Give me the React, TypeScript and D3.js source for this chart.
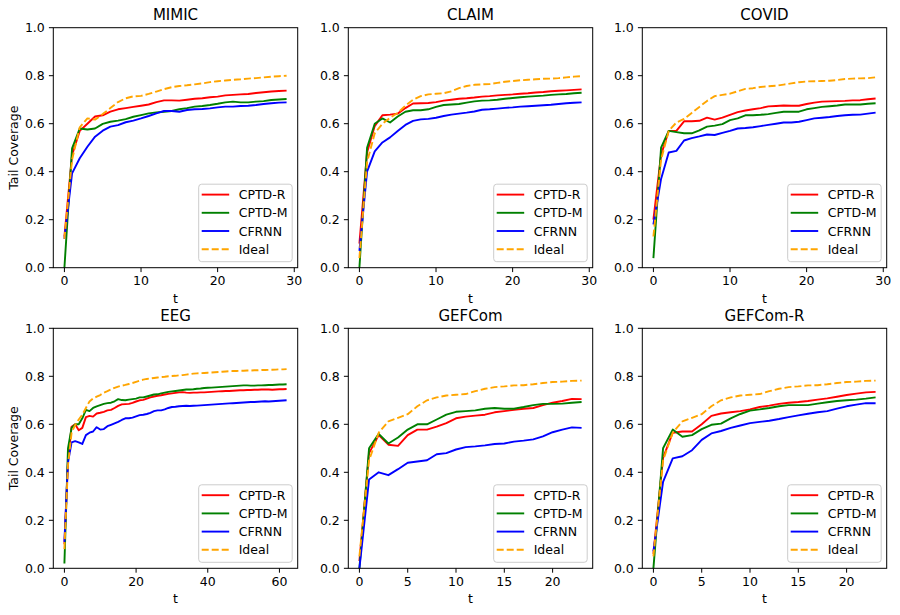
import React, { useEffect, useRef } from 'react';
import * as d3 from 'd3';

const panelNames = ['MIMIC', 'CLAIM', 'COVID', 'EEG', 'GEFCom', 'GEFCom-R'];
const seriesNames = ['CPTD-R', 'CPTD-M', 'CFRNN', 'Ideal'];
const seriesColors = ['red', 'green', 'blue', 'orange'];
const yTicks = [0, 0.2, 0.4, 0.6, 0.8, 1.0];
const xTicksByPanel = [
  [0, 10, 20, 30],
  [0, 10, 20, 30],
  [0, 10, 20, 30],
  [0, 20, 40, 60],
  [0, 5, 10, 15, 20],
  [0, 5, 10, 15, 20],
];

// MIMIC
const mimicR = [0.13, 0.47, 0.57, 0.60, 0.63, 0.635, 0.65, 0.66, 0.665, 0.67, 0.675, 0.68, 0.69, 0.697, 0.697, 0.696, 0.70, 0.704, 0.706, 0.71, 0.713, 0.718, 0.72, 0.722, 0.724, 0.728, 0.731, 0.734, 0.736, 0.738];
const mimicM = [0.0, 0.497, 0.58, 0.576, 0.58, 0.599, 0.608, 0.613, 0.619, 0.629, 0.636, 0.643, 0.647, 0.65, 0.653, 0.66, 0.665, 0.671, 0.674, 0.678, 0.683, 0.689, 0.692, 0.689, 0.689, 0.692, 0.694, 0.699, 0.701, 0.703];
const mimicC = [0.12, 0.393, 0.456, 0.504, 0.546, 0.571, 0.588, 0.594, 0.606, 0.613, 0.622, 0.632, 0.643, 0.653, 0.653, 0.65, 0.657, 0.66, 0.661, 0.664, 0.668, 0.671, 0.671, 0.674, 0.675, 0.678, 0.682, 0.685, 0.688, 0.689];
const mimicI = [0.12, 0.45, 0.585, 0.622, 0.617, 0.64, 0.665, 0.69, 0.706, 0.714, 0.716, 0.724, 0.734, 0.744, 0.752, 0.757, 0.76, 0.764, 0.768, 0.773, 0.777, 0.78, 0.783, 0.785, 0.788, 0.79, 0.793, 0.796, 0.798, 0.80];

// CLAIM
const claimR = [0.10, 0.48, 0.59, 0.635, 0.638, 0.642, 0.665, 0.684, 0.685, 0.686, 0.69, 0.696, 0.70, 0.704, 0.706, 0.709, 0.713, 0.715, 0.718, 0.72, 0.722, 0.725, 0.727, 0.73, 0.732, 0.735, 0.737, 0.739, 0.741, 0.743];
const claimM = [0.0, 0.50, 0.60, 0.622, 0.605, 0.63, 0.65, 0.656, 0.656, 0.66, 0.67, 0.678, 0.68, 0.682, 0.688, 0.693, 0.696, 0.697, 0.70, 0.704, 0.707, 0.71, 0.713, 0.715, 0.717, 0.72, 0.722, 0.724, 0.727, 0.729];
const claimC = [0.07, 0.40, 0.485, 0.522, 0.543, 0.57, 0.595, 0.612, 0.618, 0.62, 0.625, 0.632, 0.638, 0.642, 0.646, 0.651, 0.658, 0.66, 0.663, 0.666, 0.668, 0.671, 0.673, 0.675, 0.677, 0.679, 0.682, 0.685, 0.687, 0.689];
const claimI = [0.04, 0.44, 0.56, 0.60, 0.625, 0.645, 0.675, 0.70, 0.715, 0.722, 0.725, 0.727, 0.735, 0.748, 0.757, 0.762, 0.764, 0.765, 0.77, 0.775, 0.778, 0.781, 0.783, 0.785, 0.787, 0.788, 0.79, 0.793, 0.796, 0.798];

// COVID
const covidR = [0.20, 0.47, 0.57, 0.57, 0.61, 0.61, 0.612, 0.625, 0.617, 0.625, 0.637, 0.648, 0.655, 0.66, 0.665, 0.672, 0.674, 0.676, 0.675, 0.675, 0.682, 0.688, 0.692, 0.693, 0.694, 0.695, 0.697, 0.698, 0.702, 0.705];
const covidM = [0.04, 0.50, 0.57, 0.565, 0.56, 0.56, 0.572, 0.588, 0.592, 0.598, 0.615, 0.622, 0.635, 0.635, 0.637, 0.64, 0.645, 0.65, 0.65, 0.65, 0.66, 0.665, 0.67, 0.673, 0.676, 0.68, 0.68, 0.68, 0.683, 0.685];
const covidC = [0.18, 0.37, 0.48, 0.487, 0.53, 0.54, 0.547, 0.555, 0.553, 0.562, 0.57, 0.58, 0.582, 0.585, 0.59, 0.595, 0.60, 0.605, 0.605, 0.608, 0.615, 0.622, 0.625, 0.628, 0.632, 0.635, 0.637, 0.638, 0.642, 0.646];
const covidI = [0.13, 0.45, 0.57, 0.605, 0.62, 0.645, 0.67, 0.695, 0.715, 0.72, 0.725, 0.735, 0.745, 0.748, 0.753, 0.756, 0.758, 0.763, 0.768, 0.773, 0.776, 0.777, 0.778, 0.779, 0.782, 0.786, 0.788, 0.789, 0.79, 0.793];

// EEG
const eegR = [0.10, 0.45, 0.59, 0.60, 0.575, 0.585, 0.63, 0.635, 0.632, 0.645, 0.648, 0.652, 0.658, 0.66, 0.668, 0.677, 0.683, 0.684, 0.685, 0.689, 0.695, 0.70, 0.702, 0.707, 0.712, 0.716, 0.719, 0.721, 0.724, 0.727, 0.729, 0.731, 0.733, 0.734, 0.732, 0.731, 0.732, 0.732, 0.733, 0.733, 0.734, 0.735, 0.736, 0.737, 0.738, 0.739, 0.739, 0.740, 0.741, 0.742, 0.742, 0.743, 0.743, 0.744, 0.744, 0.745, 0.745, 0.745, 0.744, 0.745, 0.746, 0.746, 0.747];
const eegM = [0.02, 0.50, 0.585, 0.60, 0.60, 0.625, 0.66, 0.655, 0.668, 0.675, 0.68, 0.685, 0.688, 0.69, 0.696, 0.705, 0.701, 0.70, 0.703, 0.705, 0.707, 0.712, 0.712, 0.716, 0.72, 0.724, 0.725, 0.729, 0.732, 0.735, 0.737, 0.739, 0.741, 0.743, 0.745, 0.745, 0.746, 0.748, 0.749, 0.751, 0.752, 0.753, 0.754, 0.755, 0.756, 0.757, 0.758, 0.759, 0.76, 0.761, 0.762, 0.762, 0.761, 0.761, 0.762, 0.762, 0.763, 0.764, 0.764, 0.765, 0.766, 0.766, 0.767];
const eegC = [0.11, 0.44, 0.525, 0.53, 0.525, 0.518, 0.555, 0.565, 0.57, 0.588, 0.578, 0.58, 0.592, 0.598, 0.604, 0.61, 0.618, 0.625, 0.625, 0.628, 0.633, 0.638, 0.64, 0.643, 0.648, 0.655, 0.658, 0.658, 0.662, 0.668, 0.672, 0.673, 0.675, 0.676, 0.677, 0.676, 0.677, 0.678, 0.679, 0.68, 0.681, 0.682, 0.683, 0.684, 0.685, 0.686, 0.687, 0.688, 0.689, 0.69, 0.691, 0.692, 0.693, 0.693, 0.694, 0.695, 0.696, 0.695, 0.696, 0.697, 0.698, 0.699, 0.70];
const eegI = [0.08, 0.43, 0.565, 0.597, 0.62, 0.64, 0.668, 0.695, 0.708, 0.715, 0.722, 0.732, 0.738, 0.745, 0.752, 0.757, 0.761, 0.764, 0.768, 0.772, 0.777, 0.782, 0.786, 0.789, 0.791, 0.793, 0.795, 0.797, 0.798, 0.80, 0.801, 0.802, 0.804, 0.805, 0.807, 0.809, 0.811, 0.812, 0.813, 0.814, 0.815, 0.816, 0.817, 0.818, 0.819, 0.82, 0.821, 0.822, 0.822, 0.823, 0.823, 0.824, 0.824, 0.825, 0.825, 0.826, 0.826, 0.827, 0.827, 0.828, 0.829, 0.829, 0.83];

// GEFCom
const gefR = [0.03, 0.48, 0.555, 0.515, 0.51, 0.555, 0.578, 0.578, 0.59, 0.605, 0.625, 0.632, 0.636, 0.64, 0.65, 0.655, 0.66, 0.665, 0.668, 0.68, 0.69, 0.697, 0.706, 0.705];
const gefM = [0.0, 0.50, 0.56, 0.52, 0.545, 0.578, 0.60, 0.60, 0.62, 0.64, 0.652, 0.655, 0.658, 0.665, 0.668, 0.665, 0.665, 0.672, 0.68, 0.685, 0.685, 0.686, 0.69, 0.693];
const gefC = [0.0, 0.37, 0.40, 0.388, 0.413, 0.44, 0.445, 0.45, 0.475, 0.48, 0.495, 0.505, 0.508, 0.512, 0.518, 0.52, 0.528, 0.532, 0.537, 0.55, 0.567, 0.578, 0.587, 0.585];
const gefI = [0.05, 0.45, 0.565, 0.612, 0.627, 0.642, 0.675, 0.70, 0.712, 0.72, 0.723, 0.726, 0.738, 0.748, 0.755, 0.758, 0.762, 0.763, 0.767, 0.772, 0.776, 0.778, 0.781, 0.782];

// GEFCom-R
const gefrR = [0.06, 0.46, 0.565, 0.57, 0.57, 0.60, 0.635, 0.645, 0.65, 0.655, 0.662, 0.672, 0.678, 0.685, 0.69, 0.693, 0.697, 0.703, 0.708, 0.715, 0.722, 0.728, 0.733, 0.735];
const gefrM = [0.0, 0.50, 0.578, 0.548, 0.555, 0.58, 0.598, 0.603, 0.625, 0.643, 0.657, 0.662, 0.668, 0.675, 0.68, 0.68, 0.68, 0.686, 0.692, 0.697, 0.70, 0.703, 0.707, 0.712];
const gefrC = [0.07, 0.36, 0.458, 0.467, 0.492, 0.535, 0.562, 0.572, 0.585, 0.595, 0.605, 0.61, 0.615, 0.622, 0.63, 0.637, 0.644, 0.65, 0.655, 0.665, 0.675, 0.682, 0.688, 0.688];
const gefrI = [0.05, 0.45, 0.565, 0.612, 0.627, 0.642, 0.675, 0.70, 0.712, 0.72, 0.723, 0.726, 0.738, 0.748, 0.755, 0.758, 0.762, 0.763, 0.767, 0.772, 0.776, 0.778, 0.781, 0.782];

const panelSeries = [
  [mimicR, mimicM, mimicC, mimicI],
  [claimR, claimM, claimC, claimI],
  [covidR, covidM, covidC, covidI],
  [eegR, eegM, eegC, eegI],
  [gefR, gefM, gefC, gefI],
  [gefrR, gefrM, gefrC, gefrI],
];

const W = 900;
const H = 615;
const colLefts = [53.3, 348.3, 642.3];
const rowTops = [27.7, 328.3];
const axW = 244.4;
const axH = 240;
const FONT = 'DejaVu Sans, sans-serif';

const App: React.FC = () => {
  const svgRef = useRef<SVGSVGElement>(null);

  useEffect(() => {
    if (!svgRef.current) return;
    const svg = d3.select(svgRef.current);
    svg.selectAll('*').remove();

    svg.append('rect').attr('width', W).attr('height', H).attr('fill', '#fff');

    panelNames.forEach((name, p) => {
      const left = colLefts[p % 3];
      const top = rowTops[Math.floor(p / 3)];
      const series = panelSeries[p];
      const n = series[0].length - 1;

      const x = d3.scaleLinear().domain([-0.05 * n, 1.05 * n]).range([left, left + axW]);
      const y = d3.scaleLinear().domain([0, 1]).range([top + axH, top]);

      const g = svg.append('g');

      // lines
      const line = d3.line<number>()
        .x((_, i) => x(i))
        .y(d => y(d));

      series.forEach((vals, s) => {
        g.append('path')
          .datum(vals)
          .attr('d', line)
          .attr('fill', 'none')
          .attr('stroke', seriesColors[s])
          .attr('stroke-width', 1.9)
          .attr('stroke-linejoin', 'round')
          .attr('stroke-dasharray', s === 3 ? '7,3' : null);
      });

      // spines
      g.append('rect')
        .attr('x', left).attr('y', top)
        .attr('width', axW).attr('height', axH)
        .attr('fill', 'none').attr('stroke', '#000').attr('stroke-width', 1);

      // y axis
      yTicks.forEach(v => {
        g.append('line')
          .attr('x1', left - 4.4).attr('x2', left)
          .attr('y1', y(v)).attr('y2', y(v))
          .attr('stroke', '#000').attr('stroke-width', 1);
        g.append('text')
          .attr('x', left - 8.5).attr('y', y(v))
          .attr('dy', '0.36em')
          .attr('text-anchor', 'end')
          .style('font-family', FONT).style('font-size', '12.5px')
          .text(v.toFixed(1));
      });

      // x axis
      xTicksByPanel[p].forEach(v => {
        g.append('line')
          .attr('x1', x(v)).attr('x2', x(v))
          .attr('y1', top + axH).attr('y2', top + axH + 4.4)
          .attr('stroke', '#000').attr('stroke-width', 1);
        g.append('text')
          .attr('x', x(v)).attr('y', top + axH + 17.5)
          .attr('text-anchor', 'middle')
          .style('font-family', FONT).style('font-size', '12.5px')
          .text(String(v));
      });

      g.append('text')
        .attr('x', left + axW / 2).attr('y', top + axH + 35)
        .attr('text-anchor', 'middle')
        .style('font-family', FONT).style('font-size', '12.5px')
        .text('t');

      if (p % 3 === 0) {
        g.append('text')
          .attr('transform', `translate(${left - 35},${top + axH / 2}) rotate(-90)`)
          .attr('text-anchor', 'middle')
          .style('font-family', FONT).style('font-size', '12.5px')
          .text('Tail Coverage');
      }

      g.append('text')
        .attr('x', left + axW / 2).attr('y', top - 7.5)
        .attr('text-anchor', 'middle')
        .style('font-family', FONT).style('font-size', '15px')
        .text(name);

      // legend
      const lw = 93.5;
      const lh = 77.5;
      const lx = left + axW - 5.5 - lw;
      const ly = top + axH - 6 - lh;
      const leg = g.append('g');
      leg.append('rect')
        .attr('x', lx).attr('y', ly)
        .attr('width', lw).attr('height', lh)
        .attr('rx', 3)
        .attr('fill', '#fff').attr('fill-opacity', 0.8)
        .attr('stroke', '#cccccc').attr('stroke-width', 1);
      seriesNames.forEach((sName, s) => {
        const cy = ly + 10.4 + s * 18.2;
        leg.append('line')
          .attr('x1', lx + 3).attr('x2', lx + 30.5)
          .attr('y1', cy).attr('y2', cy)
          .attr('stroke', seriesColors[s])
          .attr('stroke-width', 1.9)
          .attr('stroke-dasharray', s === 3 ? '7,3' : null);
        leg.append('text')
          .attr('x', lx + 40).attr('y', cy)
          .attr('dy', '0.36em')
          .style('font-family', FONT).style('font-size', '12.5px')
          .text(sName);
      });
    });
  }, []);

  return (
    <svg
      ref={svgRef}
      width={W}
      height={H}
      style={{ position: 'absolute', left: 0, top: 0 }}
    />
  );
};

export default App;
